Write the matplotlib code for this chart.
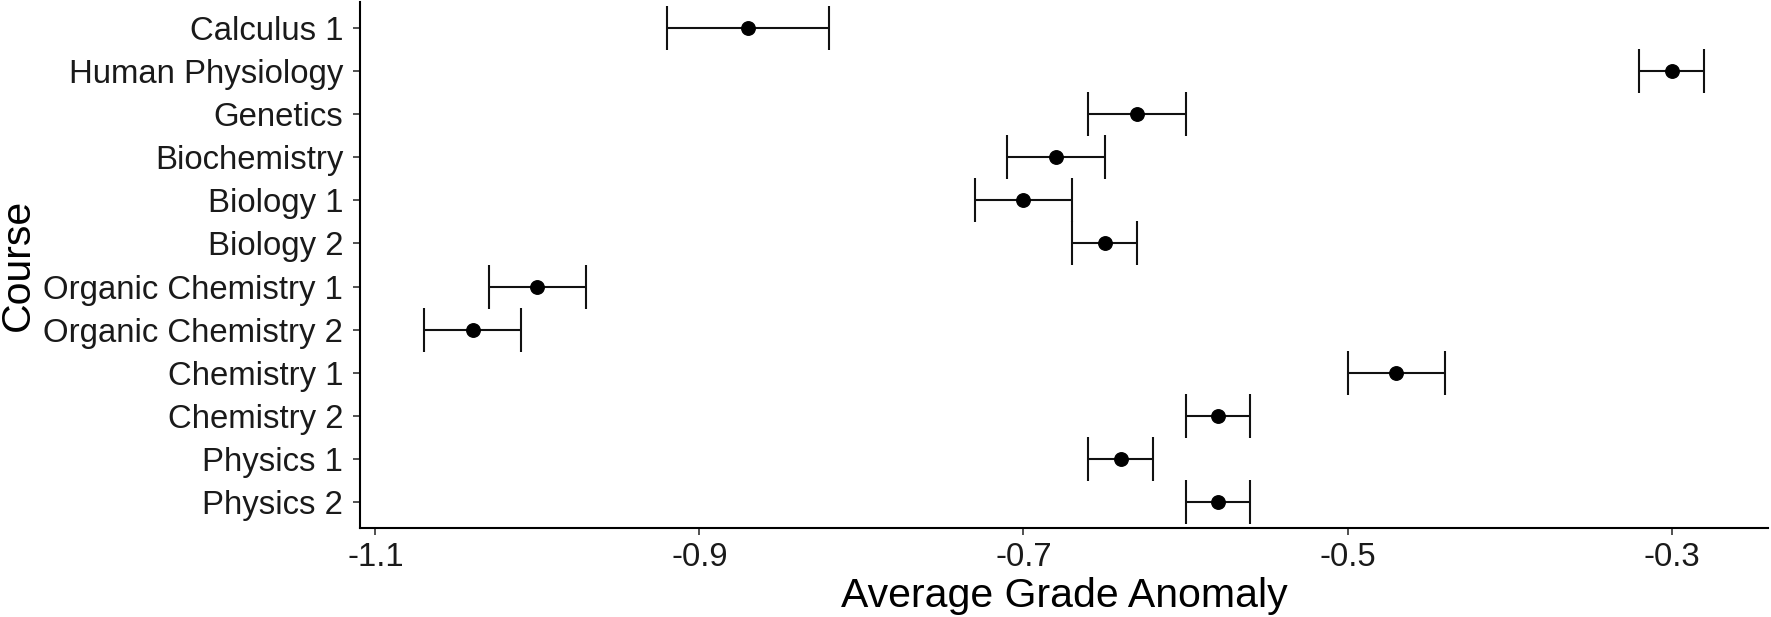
import matplotlib
matplotlib.use("Agg")
import matplotlib.pyplot as plt
import numpy as np

courses = ["Calculus 1", "Human Physiology", "Genetics", "Biochemistry",
           "Biology 1", "Biology 2", "Organic Chemistry 1", "Organic Chemistry 2",
           "Chemistry 1", "Chemistry 2", "Physics 1", "Physics 2"]
means = [-0.87, -0.30, -0.63, -0.68, -0.70, -0.65, -1.00, -1.04, -0.47, -0.58, -0.64, -0.58]
errors = [0.05, 0.02, 0.03, 0.03, 0.03, 0.02, 0.03, 0.03, 0.03, 0.02, 0.02, 0.02]
xticks = [-1.1, -0.9, -0.7, -0.5, -0.3]
xtick_labels = ["-1.1", "-0.9", "-0.7", "-0.5", "-0.3"]

plt.rcParams['font.family'] = ['Liberation Sans', 'DejaVu Sans']

W, H = 1771, 617
fig = plt.figure(figsize=(W / 100, H / 100), dpi=100)
ax = fig.add_axes([360 / W, (H - 528) / H, (1768 - 360) / W, (528 - 2) / H])

n = len(courses)
ypos = np.arange(n)[::-1]
ax.errorbar(means, ypos, xerr=errors, fmt='o', color='black', ms=9.7,
            ecolor='#111111', elinewidth=1.5, capsize=15.5, capthick=1.5, zorder=3)

ax.set_yticks(ypos)
ax.set_yticklabels(courses, fontsize=23.7, color='#1a1a1a')
ax.set_xticks(xticks)
ax.set_xticklabels(xtick_labels, fontsize=23.7, color='#1a1a1a')

lo = min(m - e for m, e in zip(means, errors))
hi = max(m + e for m, e in zip(means, errors))
pad = 0.05 * (hi - lo)
ax.set_xlim(lo - pad, hi + pad)
ax.set_ylim(-0.6, n - 1 + 0.6)

for s in ['top', 'right']:
    ax.spines[s].set_visible(False)
for s in ['left', 'bottom']:
    ax.spines[s].set_linewidth(1.5)
    ax.spines[s].set_color('black')

ax.tick_params(axis='y', length=5, width=1.2, color='#333333', pad=7)
ax.tick_params(axis='x', length=5, width=1.2, color='#333333', pad=5)

ax.set_xlabel("Average Grade Anomaly", fontsize=29.5, labelpad=3)
ax.set_ylabel("Course", fontsize=29.5, labelpad=5)

fig.savefig("out.png", dpi=100, facecolor='white')
